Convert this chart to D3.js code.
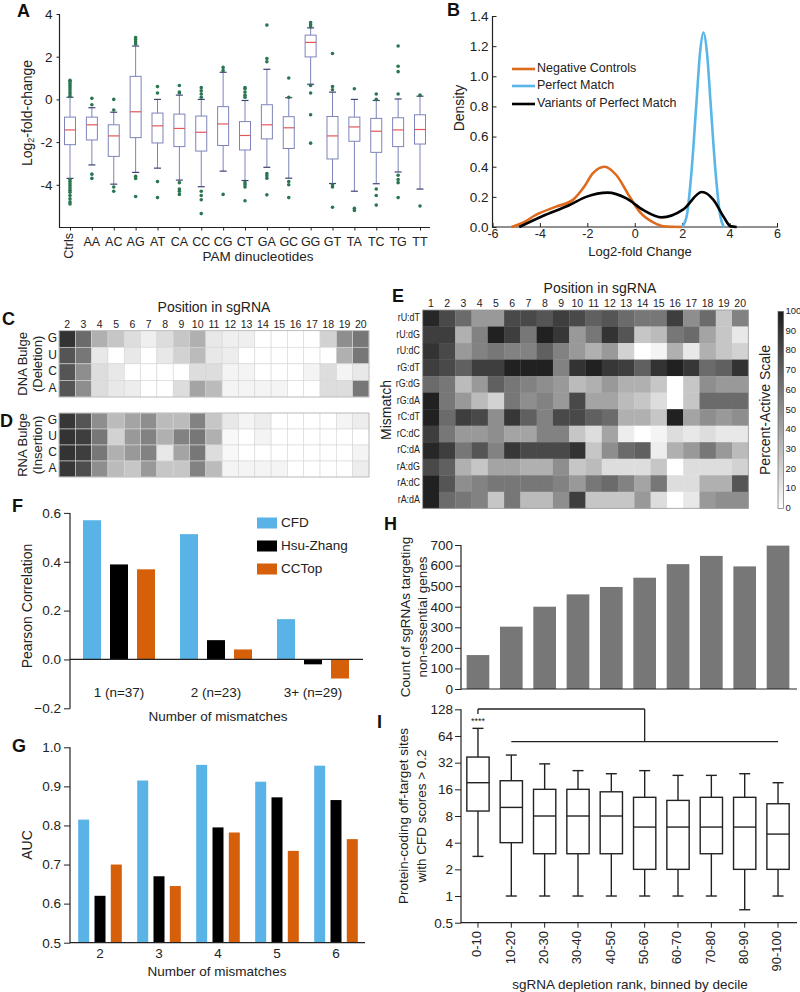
<!DOCTYPE html>
<html><head><meta charset="utf-8">
<script src="https://cdn.jsdelivr.net/npm/d3@7"></script>
<style>
body{margin:0;background:#fff;}
text{font-family:"Liberation Sans",Arial,Helvetica,sans-serif;}
</style></head><body>
<script>
// ---------- Panel A data ----------
const pamCategories = ["Ctrls","AA","AC","AG","AT","CA","CC","CG","CT","GA","GC","GG","GT","TA","TC","TG","TT"];
const pamQ1 = [-2.12,-1.90,-2.67,-1.79,-2.04,-2.21,-2.42,-2.16,-2.37,-1.85,-2.30,1.99,-2.79,-1.96,-2.48,-2.21,-2.09];
const pamMedian = [-1.43,-1.19,-1.71,-0.58,-1.24,-1.36,-1.54,-1.15,-1.69,-1.19,-1.33,2.67,-1.71,-1.29,-1.49,-1.43,-1.41];
const pamQ3 = [-0.83,-0.83,-1.19,1.08,-0.64,-0.69,-0.78,-0.34,-1.04,-0.25,-0.81,3.01,-0.80,-0.83,-0.89,-0.86,-0.72];
const pamWhiskerLow = [-3.70,-3.07,-3.97,-3.42,-3.22,-3.78,-4.09,-3.36,-3.80,-3.18,-3.69,0.71,-3.94,-4.30,-3.95,-3.40,-4.20];
const pamWhiskerHigh = [0.10,-0.39,-0.60,2.50,0.00,0.20,0.00,1.27,-0.05,1.41,0.08,3.35,0.34,0.00,-0.05,0.02,0.15];
const pamOutliers = [
 [0.15,0.25,0.35,0.45,0.55,0.65,0.75,0.85,0.9,-3.75,-3.85,-3.95,-4.05,-4.15,-4.25,-4.35,-4.5,-4.65,-4.8,-4.9],
 [0.05,-0.25,-3.5,-3.7],
 [0.0,-0.5,-4.1,-4.3],
 [2.6,2.7,2.8,2.9,-3.6,-3.7,-4.55],
 [0.3,0.6,-3.85,-4.6],
 [0.3,0.35,0.65,-3.9,-4.2,-4.3,-4.45],
 [0.1,0.25,0.4,0.55,-4.3,-4.5,-4.7,-5.35],
 [1.35,1.5,-4.45],
 [0.1,0.2,0.35,0.5,0.55,-3.9,-4.0,-4.1,-4.75],
 [1.76,1.91,3.48,-3.47,-3.58,-3.69,-4.47],
 [0.1,1.0,-3.85,-4.0,-4.6],
 [3.4,3.5,3.6,0.65,0.3,-0.72,-2.05],
 [0.45,0.6,2.15,-4.0,-4.1,-5.05],
 [0.5,-5.1,-5.2],
 [0.0,0.25,-4.2,-4.5,-4.95],
 [0.25,1.3,1.55,2.5,-3.55,-3.75,-3.9,-4.6],
 [0.2,-4.99]
];
const pamYTicks = [-4,-2,0,2,4];

// ---------- Panel B data ----------
const negControlsDensity = [[-5.2,0],[-4.7,0.03],[-4.17,0.08],[-3.32,0.135],[-2.61,0.18],[-2.12,0.27],[-1.77,0.356],[-1.27,0.40],[-0.78,0.345],[-0.21,0.2],[0.21,0.1],[0.78,0.03],[1.2,0.005],[2,0]];
const perfectMatchDensity = [[2.0,0],[2.2,0.08],[2.4,0.38],[2.6,0.82],[2.75,1.15],[2.9,1.29],[3.05,1.15],[3.2,0.82],[3.4,0.38],[3.6,0.08],[3.75,0]];
const variantsDensity = [[-4.87,0],[-3.88,0.073],[-2.75,0.146],[-2.05,0.2],[-1.14,0.228],[-0.35,0.19],[0.35,0.113],[1.13,0.064],[2.05,0.117],[2.83,0.232],[3.32,0.18],[3.74,0.07],[4.05,0.004],[4.3,0]];
const densityLegend = ["Negative Controls","Perfect Match","Variants of Perfect Match"];
const densityXTicks = [-6,-4,-2,0,2,4,6];
const densityYTicks = [0,0.2,0.4,0.6,0.8,1.0,1.2,1.4];

// ---------- Panel C / D data ----------
const bulgePositions = [2,3,4,5,6,7,8,9,10,11,12,13,14,15,16,17,18,19,20];
const bulgeBases = ["G","U","C","A"];
const dnaBulgeValues = [
 [90,65,35,25,15,7,15,25,35,10,7,7,0,0,0,0,20,50,60],
 [75,60,10,0,10,0,10,20,30,10,8,0,0,0,0,0,0,35,60],
 [75,50,15,10,0,0,0,0,15,15,5,5,0,0,0,5,15,5,10],
 [75,50,15,10,8,0,0,15,40,30,5,5,5,5,0,0,15,15,60]
];
const rnaBulgeValues = [
 [88,75,50,30,40,50,30,30,55,25,10,5,8,0,0,0,0,5,8],
 [90,85,60,20,45,55,35,55,60,35,3,0,5,0,0,0,0,0,0],
 [90,85,60,35,45,55,10,40,60,15,3,0,0,0,0,0,0,0,5],
 [88,78,50,30,25,45,25,25,55,30,5,5,5,5,0,0,0,0,8]
];

// ---------- Panel E data ----------
const mismatchPositions = [1,2,3,4,5,6,7,8,9,10,11,12,13,14,15,16,17,18,19,20];
const mismatchTypes = ["rU:dT","rU:dG","rU:dC","rG:dT","rG:dG","rG:dA","rC:dT","rC:dC","rC:dA","rA:dG","rA:dC","rA:dA"];
const mismatchValues = [
 [95,80,65,45,45,80,80,75,85,80,70,75,65,60,60,85,50,65,25,55],
 [85,85,35,55,98,85,60,98,88,45,60,90,75,25,30,60,65,40,25,10],
 [90,80,45,55,60,55,55,70,55,45,35,45,20,0,5,35,10,35,25,20],
 [85,80,70,85,85,98,98,98,55,90,98,88,85,70,90,98,88,65,70,90],
 [65,60,30,45,70,60,55,50,45,30,35,45,35,35,25,0,25,50,45,45],
 [98,60,45,30,20,60,50,55,45,80,40,40,30,25,15,0,25,65,65,65],
 [98,65,85,80,50,88,70,55,80,80,70,65,35,35,25,98,40,50,45,50],
 [85,60,45,45,50,40,40,55,55,25,15,40,8,0,5,15,10,15,10,10],
 [95,85,60,75,55,88,80,80,80,90,25,50,65,70,8,35,45,60,45,30],
 [80,70,35,25,40,40,35,35,50,25,30,15,15,15,25,0,15,15,15,20],
 [98,75,50,55,60,60,60,60,55,45,60,65,55,40,60,15,15,35,35,75],
 [98,65,60,55,25,60,30,30,50,85,25,25,25,45,15,0,10,45,50,50]
];
const scaleTicks = [0,10,20,30,40,50,60,70,80,90,100];

// ---------- Panel F data ----------
const pearsonGroups = ["1 (n=37)","2 (n=23)","3+ (n=29)"];
const scoreSeries = ["CFD","Hsu-Zhang","CCTop"];
const pearsonCFD = [0.57,0.513,0.165];
const pearsonHsuZhang = [0.389,0.079,-0.02];
const pearsonCCTop = [0.369,0.041,-0.078];
const pearsonTicks = [-0.2,0.0,0.2,0.4,0.6];

// ---------- Panel G data ----------
const aucGroups = ["2","3","4","5","6"];
const aucCFD = [0.815,0.915,0.955,0.912,0.953];
const aucHsuZhang = [0.62,0.67,0.795,0.872,0.865];
const aucCCTop = [0.70,0.645,0.782,0.735,0.765];
const aucTicks = [0.5,0.6,0.7,0.8,0.9,1.0];

// ---------- Panel H data ----------
const decileLabels = ["0-10","10-20","20-30","30-40","40-50","50-60","60-70","70-80","80-90","90-100"];
const sgRNACounts = [165,303,400,460,496,541,607,647,596,697];
const countTicks = [0,100,200,300,400,500,600,700];

// ---------- Panel I data ----------
const offQ1 = [9.1,4,3,3,3,2,2,3,2,2];
const offMedian = [19,10,8,8,8,6,6,6,6,5];
const offQ3 = [37,20,16,16,15,13,12,13,13,11];
const offWhiskerLow = [2.8,1,1,1,1,1,1,1,0.7,1];
const offWhiskerHigh = [78,39,31,26,24,26,23,23,24,19];
const offTicks = [0.5,1,2,4,8,16,32,64,128];

// ---------- helpers ----------
const INK = "#222";
const svg = d3.select("body").append("svg").attr("width",800).attr("height",992);
svg.append("rect").attr("width",800).attr("height",992).attr("fill","#fff");

function addText(x,y,str,o={}){
  const t = svg.append("text").attr("x",x).attr("y",y).text(str)
    .attr("font-size",o.size||13).attr("text-anchor",o.anchor||"middle")
    .attr("dominant-baseline",o.baseline||"middle").attr("fill",o.fill||INK);
  if(o.weight) t.attr("font-weight",o.weight);
  if(o.rotate) t.attr("transform",`rotate(${o.rotate},${x},${y})`);
  return t;
}
function letter(x,y,s){ addText(x,y,s,{size:18,weight:"bold",anchor:"start",baseline:"auto",fill:"#111"}); }
function styleAxis(g,size){
  g.attr("font-family",null).attr("font-size",size);
  g.selectAll("text").attr("fill",INK);
  g.selectAll(".tick line").attr("stroke",INK).attr("stroke-width",1);
  g.select(".domain").remove();
}
function line(x1,y1,x2,y2,w=1.2,c=INK){
  svg.append("line").attr("x1",x1).attr("y1",y1).attr("x2",x2).attr("y2",y2)
    .attr("stroke",c).attr("stroke-width",w);
}

// ================= Panel A =================
letter(17,17,"A");
const xA = d3.scalePoint().domain(pamCategories).range([70,420]);
const yA = d3.scaleLinear().domain([-6,4]).range([227.5,14]);
styleAxis(svg.append("g").attr("transform","translate(59.5,0)")
  .call(d3.axisLeft(yA).tickValues(pamYTicks).tickSizeInner(3).tickSizeOuter(0).tickPadding(4).tickFormat(d=>String(d))),13.5);
styleAxis(svg.append("g").attr("transform","translate(0,227.5)")
  .call(d3.axisBottom(xA).tickSizeInner(3).tickSizeOuter(0).tickFormat("")),12);
line(59.5,14,59.5,228);
line(59,227.5,430,227.5);
const boxCol = "#7d84bb";
pamCategories.forEach((c,i)=>{
  const cx = xA(c), w = 11;
  line(cx,yA(pamWhiskerLow[i]),cx,yA(pamQ1[i]),1,boxCol);
  line(cx,yA(pamQ3[i]),cx,yA(pamWhiskerHigh[i]),1,boxCol);
  line(cx-3.5,yA(pamWhiskerLow[i]),cx+3.5,yA(pamWhiskerLow[i]),1.2,"#3d4270");
  line(cx-3.5,yA(pamWhiskerHigh[i]),cx+3.5,yA(pamWhiskerHigh[i]),1.2,"#3d4270");
  svg.append("rect").attr("x",cx-w/2).attr("y",yA(pamQ3[i])).attr("width",w)
    .attr("height",yA(pamQ1[i])-yA(pamQ3[i])).attr("fill","#fff").attr("stroke",boxCol).attr("stroke-width",1);
  line(cx-w/2,yA(pamMedian[i]),cx+w/2,yA(pamMedian[i]),1.2,"#e2585a");
  svg.append("g").selectAll("circle").data(pamOutliers[i]).join("circle")
    .attr("cx",cx).attr("cy",d=>yA(d)).attr("r",1.8).attr("fill","#2b7650");
  if(c==="Ctrls") addText(cx,233,c,{size:12.5,anchor:"end",rotate:-90});
  else addText(cx,243,c,{size:12.5});
});
addText(28,113,"",{size:14,rotate:-90}).call(t=>{
  t.append("tspan").text("Log");
  t.append("tspan").text("2").attr("font-size",9).attr("dy",4);
  t.append("tspan").text("-fold-change").attr("dy",-4);
});
addText(258,257,"PAM dinucleotides",{size:13.5});

// ================= Panel B =================
letter(447,16,"B");
const xB = d3.scaleLinear().domain([-6,6]).range([492.5,777]);
const yB = d3.scaleLinear().domain([0,1.4]).range([227,16]);
styleAxis(svg.append("g").attr("transform","translate(492.5,0)")
  .call(d3.axisLeft(yB).tickValues(densityYTicks).tickSizeInner(-4).tickSizeOuter(0).tickPadding(4).tickFormat(d3.format(".1f"))),13.5);
styleAxis(svg.append("g").attr("transform","translate(0,227)")
  .call(d3.axisBottom(xB).tickValues(densityXTicks).tickSizeInner(-4).tickSizeOuter(0).tickPadding(2).tickFormat(d=>String(d))),12.5);
line(492.5,16,492.5,227.5);
line(492,227,778,227);
const densLine = d3.line().x(d=>xB(d[0])).y(d=>yB(d[1])).curve(d3.curveMonotoneX);
const densColors = ["#de6a1d","#5bb6e8","#000"];
[negControlsDensity,perfectMatchDensity,variantsDensity].forEach((arr,i)=>{
  svg.append("path").attr("d",densLine(arr)).attr("fill","none").attr("stroke",densColors[i])
    .attr("stroke-width",2.6).attr("stroke-linejoin","round");
});
densityLegend.forEach((s,i)=>{
  const y = [69,86,104][i];
  line(512,y,535,y,2.6,densColors[i]);
  addText(537,y,s,{size:12.5,anchor:"start"});
});
addText(460,108,"Density",{size:14,rotate:-90});
addText(640,253,"Log2-fold Change",{size:13});

// ================= Panel C / D =================
const gray = d3.scaleLinear().domain([0,100]).range(["#ffffff","#1c1c1c"]);
const xC = d3.scaleBand().domain(bulgePositions).range([59,369]);
function bulge(values,y0,y1,l1,l2){
  const yb = d3.scaleBand().domain(bulgeBases).range([y0,y1]);
  values.forEach((row,r)=>row.forEach((v,c)=>{
    svg.append("rect").attr("x",xC(bulgePositions[c])).attr("y",yb(bulgeBases[r]))
      .attr("width",xC.bandwidth()).attr("height",yb.bandwidth())
      .attr("fill",gray(v)).attr("stroke","#d6d6d6").attr("stroke-width",0.6);
  }));
  svg.append("rect").attr("x",59).attr("y",y0).attr("width",310).attr("height",y1-y0)
    .attr("fill","none").attr("stroke","#b8b8b8").attr("stroke-width",0.8);
  bulgeBases.forEach(b=>addText(52.5,yb(b)+yb.bandwidth()/2,b,{size:12}));
  const cy=(y0+y1)/2;
  addText(24,cy,l1,{size:13,rotate:-90});
  addText(39,cy,l2,{size:13,rotate:-90});
}
letter(2,325,"C");
addText(214,308,"Position in sgRNA",{size:14});
bulgePositions.forEach(p=>addText(xC(p)+xC.bandwidth()/2,325,p,{size:10.5}));
bulge(dnaBulgeValues,330.7,397,"DNA Bulge","(Deletion)");
letter(0,427,"D");
bulge(rnaBulgeValues,413,477,"RNA Bulge","(Insertion)");

// ================= Panel E =================
letter(392,302,"E");
const xE = d3.scaleBand().domain(mismatchPositions).range([422.7,748.3]);
const yE = d3.scaleBand().domain(mismatchTypes).range([310,508.3]);
mismatchValues.forEach((row,r)=>row.forEach((v,c)=>{
  svg.append("rect").attr("x",xE(mismatchPositions[c])).attr("y",yE(mismatchTypes[r]))
    .attr("width",xE.bandwidth()+0.3).attr("height",yE.bandwidth()+0.3).attr("fill",gray(v));
}));
svg.append("rect").attr("x",422.7).attr("y",310).attr("width",325.6).attr("height",198.3)
  .attr("fill","none").attr("stroke","#999").attr("stroke-width",0.8);
mismatchPositions.forEach(p=>addText(xE(p)+xE.bandwidth()/2,304,p,{size:10.5}));
mismatchTypes.forEach(m=>{
  svg.append("text").attr("transform",`translate(420,${yE(m)+yE.bandwidth()/2}) scale(0.85,1)`)
    .attr("x",0).attr("y",0).text(m).attr("font-size",10.5).attr("text-anchor","end")
    .attr("dominant-baseline","middle").attr("fill",INK);
});
addText(600,289,"Position in sgRNA",{size:14});
addText(387,410,"Mismatch",{size:14,rotate:-90});
const grad = svg.append("defs").append("linearGradient").attr("id","pas").attr("x1",0).attr("y1",1).attr("x2",0).attr("y2",0);
grad.append("stop").attr("offset","0%").attr("stop-color",gray(0));
grad.append("stop").attr("offset","100%").attr("stop-color",gray(100));
const yScaleBar = d3.scaleLinear().domain([0,100]).range([508.5,311.5]);
svg.append("rect").attr("x",778).attr("y",311.5).attr("width",5.5).attr("height",197)
  .attr("fill","url(#pas)").attr("stroke","#555").attr("stroke-width",0.6);
scaleTicks.forEach(t=>addText(785.5,yScaleBar(t),t,{size:9.5,anchor:"start"}));
addText(766,410,"Percent-Active Scale",{size:14,rotate:-90});

// ================= Panel F =================
const seriesColors = ["#5ab3e6","#000000","#d65f0a"];
letter(12,512,"F");
const xF = d3.scaleBand().domain(pearsonGroups).range([70.5,361.5]);
const xFs = d3.scalePoint().domain(scoreSeries).range([-27,27]);
const yF = d3.scaleLinear().domain([-0.2,0.6]).range([708.3,512.9]);
styleAxis(svg.append("g").attr("transform","translate(70,0)")
  .call(d3.axisLeft(yF).tickValues(pearsonTicks).tickSizeInner(6).tickSizeOuter(0).tickPadding(3).tickFormat(d3.format(".1f"))),13.5);
line(70,512.9,70,708.8);
[pearsonCFD,pearsonHsuZhang,pearsonCCTop].forEach((vals,s)=>{
  pearsonGroups.forEach((g,i)=>{
    const cx = xF(g)+xF.bandwidth()/2+xFs(scoreSeries[s]);
    const v = vals[i];
    svg.append("rect").attr("x",cx-9).attr("width",18)
      .attr("y",Math.min(yF(v),yF(0))).attr("height",Math.abs(yF(v)-yF(0))).attr("fill",seriesColors[s]);
  });
});
line(70,yF(0),363,yF(0));
pearsonGroups.forEach(g=>addText(xF(g)+xF.bandwidth()/2,693,g,{size:13.5}));
scoreSeries.forEach((s,i)=>{
  const y=[523,546,569][i];
  svg.append("rect").attr("x",257).attr("y",y-5.5).attr("width",20).attr("height",11).attr("fill",seriesColors[i]);
  addText(281,y,s,{size:13.5,anchor:"start"});
});
addText(28,606,"Pearson Correlation",{size:14,rotate:-90});
addText(218,717,"Number of mismatches",{size:13.5});

// ================= Panel G =================
letter(12,752,"G");
const xG = d3.scaleBand().domain(aucGroups).range([70.5,365.5]);
const xGs = d3.scalePoint().domain(scoreSeries).range([-16.3,16.3]);
const yG = d3.scaleLinear().domain([0.5,1.0]).range([942.7,747.3]);
styleAxis(svg.append("g").attr("transform","translate(70,0)")
  .call(d3.axisLeft(yG).tickValues(aucTicks).tickSizeInner(6).tickSizeOuter(0).tickPadding(3).tickFormat(d3.format(".1f"))),13.5);
[aucCFD,aucHsuZhang,aucCCTop].forEach((vals,s)=>{
  aucGroups.forEach((g,i)=>{
    const cx = xG(g)+xG.bandwidth()/2+xGs(scoreSeries[s]);
    svg.append("rect").attr("x",cx-5.5).attr("width",11)
      .attr("y",yG(vals[i])).attr("height",yG(0.5)-yG(vals[i])).attr("fill",seriesColors[s]);
  });
});
line(70,747.3,70,943.2);
line(70,942.7,365,942.7);
aucGroups.forEach(g=>addText(xG(g)+xG.bandwidth()/2,954,g,{size:13.5}));
addText(28,845,"AUC",{size:14,rotate:-90});
addText(217,972,"Number of mismatches",{size:13.5});

// ================= Panel H =================
letter(384,530,"H");
const xH = d3.scaleBand().domain(decileLabels).range([461.3,794.7]).paddingInner(0.32).paddingOuter(0.16);
const yH = d3.scaleLinear().domain([0,700]).range([689,545]);
styleAxis(svg.append("g").attr("transform","translate(461,0)")
  .call(d3.axisLeft(yH).tickValues(countTicks).tickSizeInner(6).tickSizeOuter(0).tickPadding(2)),13.5);
svg.append("g").selectAll("rect").data(sgRNACounts).join("rect")
  .attr("x",(d,i)=>xH(decileLabels[i])).attr("width",xH.bandwidth())
  .attr("y",d=>yH(d)).attr("height",d=>yH(0)-yH(d)).attr("fill","#777");
line(461,545,461,689.5);
line(461,689,797,689);
addText(406,617,"Count of sgRNAs targeting",{size:13.5,rotate:-90});
addText(423,617,"non-essential genes",{size:13.5,rotate:-90});

// ================= Panel I =================
letter(377,728,"I");
const yI = d3.scaleLog().base(2).domain([0.5,128]).range([922.7,709.3]);
styleAxis(svg.append("g").attr("transform","translate(461,0)")
  .call(d3.axisLeft(yI).tickValues(offTicks).tickSizeInner(6).tickSizeOuter(0).tickPadding(2).tickFormat(d=>String(d))),13.5);
styleAxis(svg.append("g").attr("transform","translate(0,922.7)")
  .call(d3.axisBottom(xH).tickSizeInner(5).tickSizeOuter(0).tickFormat("")),12);
line(461,709.3,461,923.2);
line(461,922.7,797,922.7);
decileLabels.forEach((d,i)=>{
  const cx = xH(d)+xH.bandwidth()/2, w = 22.3;
  line(cx,yI(offWhiskerLow[i]),cx,yI(offQ1[i]),1.4);
  line(cx,yI(offQ3[i]),cx,yI(offWhiskerHigh[i]),1.4);
  line(cx-5.5,yI(offWhiskerLow[i]),cx+5.5,yI(offWhiskerLow[i]),1.4);
  line(cx-5.5,yI(offWhiskerHigh[i]),cx+5.5,yI(offWhiskerHigh[i]),1.4);
  svg.append("rect").attr("x",cx-w/2).attr("y",yI(offQ3[i])).attr("width",w)
    .attr("height",yI(offQ1[i])-yI(offQ3[i])).attr("fill","#fff").attr("stroke",INK).attr("stroke-width",1.4);
  line(cx-w/2,yI(offMedian[i]),cx+w/2,yI(offMedian[i]),1.4);
  addText(cx,931,d,{size:13,anchor:"end",rotate:-90});
});
// significance bracket
const c0 = xH("0-10")+xH.bandwidth()/2, c1 = xH("10-20")+xH.bandwidth()/2;
const c5 = xH("50-60")+xH.bandwidth()/2, c9 = xH("90-100")+xH.bandwidth()/2;
line(c0,709,c5,709,1.3);
line(c0,709,c0,714,1.3);
line(c5,709,c5,741.7,1.3);
line(c1,741.7,c9,741.7,1.3);
addText(c0,722,"****",{size:9});
addText(404,816,"Protein-coding off-target sites",{size:13.5,rotate:-90});
addText(422,816,"with CFD scores > 0.2",{size:13.5,rotate:-90});
addText(630,985,"sgRNA depletion rank, binned by decile",{size:13.5});
</script></body></html>
